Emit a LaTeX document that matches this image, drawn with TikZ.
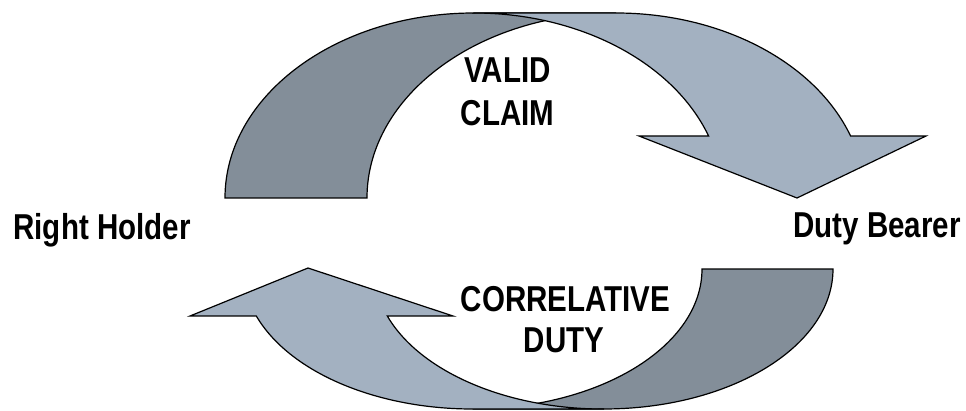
\documentclass[tikz,border=0pt]{standalone}
\usepackage{fontspec}
\newfontfamily\narrowsans{Liberation Sans}[FakeStretch=0.82]
\usetikzlibrary{positioning}

\definecolor{backgray}{RGB}{131,142,153}
\definecolor{frontblue}{RGB}{163,177,193}

\tikzset{
  backband/.style={draw=black,line width=1.2pt,fill=backgray},
  frontband/.style={draw=black,line width=1.2pt,fill=frontblue},
  roletext/.style={font=\narrowsans\bfseries\fontsize{36}{43}\selectfont,anchor=base,inner sep=0pt}
}

\begin{document}
\begin{tikzpicture}[x=1pt,y=1pt]
    \useasboundingbox (0,0) rectangle (966,410);

    % upper arrow
    \draw[backband] (225,212) arc[start angle=180,end angle=90,x radius=249,y radius=185]
        -- (616,397) arc[start angle=90,end angle=180,x radius=249,y radius=185] -- cycle;
    \draw[frontband] (474,397) -- (616,397)
        arc[start angle=90,end angle=19.58,x radius=249,y radius=185]
        -- (926,274) -- (797,212) -- (639,274) -- (708.6,274)
        arc[start angle=19.58,end angle=90,x radius=249,y radius=185] -- cycle;

    % lower arrow
    \draw[backband] (833,141) arc[start angle=0,end angle=-90,x radius=229.5,y radius=140]
        -- (472.5,1) arc[start angle=270,end angle=360,x radius=229.5,y radius=140] -- cycle;
    \draw[frontband] (603.5,1) -- (472.5,1)
        arc[start angle=270,end angle=199.6,x radius=229.5,y radius=140]
        -- (190,94) -- (308,142) -- (453,94) -- (387.3,94)
        arc[start angle=199.6,end angle=270,x radius=229.5,y radius=140] -- cycle;

    \node[roletext] (holder) at (102,170) {Right Holder};
    \node[roletext] (bearer) at (877,172) {Duty Bearer};
    \node[roletext] (valid) at (507.5,327) {VALID};
    \node[roletext] (claim) at (507.5,284) {CLAIM};
    \node[roletext] (correlative) at (565.5,99) {CORRELATIVE};
    \node[roletext] (duty) at (564,58) {DUTY};
\end{tikzpicture}
\end{document}
